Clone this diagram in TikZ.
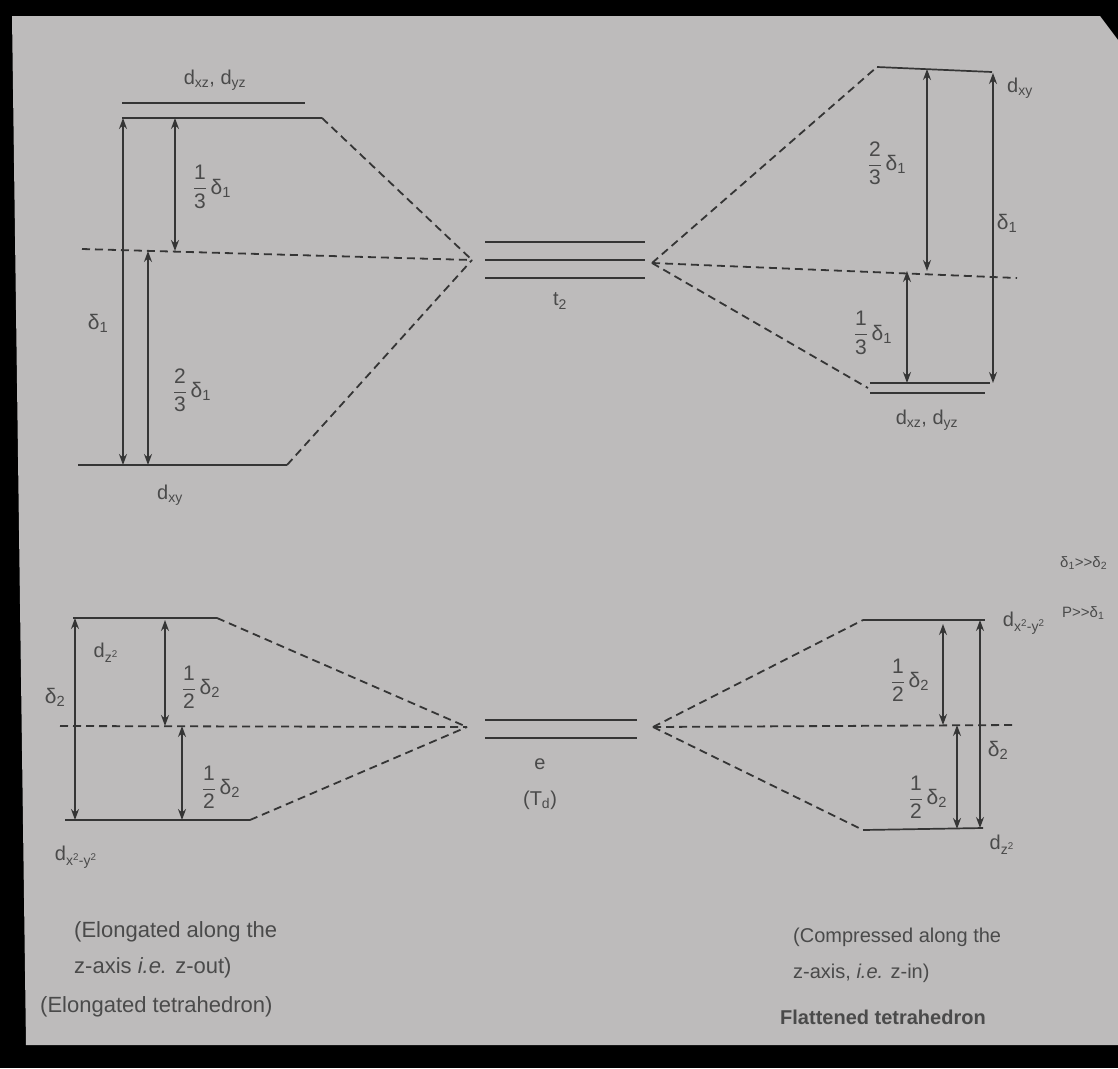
\documentclass[tikz,border=0pt]{standalone}
\usepackage{amsmath}
\usepackage{fontspec}
\setmainfont{Liberation Sans}
\usetikzlibrary{arrows.meta}
\definecolor{paper}{HTML}{BDBBBB}
\definecolor{ink}{HTML}{353535}
\definecolor{txt}{HTML}{4A4A4A}
\newcommand{\dl}[1]{d\textsubscript{#1}}
\newcommand{\frdel}[3]{$\dfrac{\text{#1}}{\text{#2}}$\,δ\textsubscript{#3}}
\begin{document}
\begin{tikzpicture}[x=1pt,y=-1pt,
  level/.style={draw=ink, line width=1.7pt},
  conn/.style={draw=ink, dash pattern=on 8pt off 5pt, line width=1.8pt},
  gap/.style={draw=ink, line width=1.3pt, {Stealth[length=11pt,width=8pt]}-{Stealth[length=11pt,width=8pt]}},
  lbl/.style={text=txt, font=\fontsize{21}{24}\selectfont, inner sep=0pt},
  dlbl/.style={text=txt, font=\fontsize{20}{23}\selectfont, inner sep=0pt},
  note/.style={text=txt, font=\fontsize{15}{18}\selectfont, inner sep=0pt, anchor=west},
  captxt/.style={text=txt, font=\fontsize{22}{25}\selectfont, inner sep=0pt, anchor=west},
  captxr/.style={text=txt, font=\fontsize{20}{23}\selectfont, inner sep=0pt, anchor=west}]
\useasboundingbox (0,0) rectangle (1118,1068);
\fill[black] (0,0) rectangle (1118,1068);
\fill[paper] (12,16) -- (1100,16) -- (1118,40) -- (1118,1045) -- (26,1045) -- cycle;

% ---------- centre levels ----------
\coordinate (tA1) at (485,242); \coordinate (tA2) at (645,242);
\coordinate (tB1) at (485,260); \coordinate (tB2) at (645,260);
\coordinate (tC1) at (485,278); \coordinate (tC2) at (645,278);
\draw[level] (tA1) -- (tA2); \draw[level] (tB1) -- (tB2); \draw[level] (tC1) -- (tC2);
\node[dlbl] (t2) at (560,301) {t\textsubscript{2}};
\coordinate (tL) at (472,260); \coordinate (tR) at (652,263);

\coordinate (eA1) at (485,720); \coordinate (eA2) at (637,720);
\coordinate (eB1) at (485,738); \coordinate (eB2) at (637,738);
\draw[level] (eA1) -- (eA2); \draw[level] (eB1) -- (eB2);
\node[dlbl] (e) at (540,764) {e};
\node[dlbl] (Td) at (540,800) {(T\textsubscript{d})};
\coordinate (eL) at (467,727); \coordinate (eR) at (653,727);

% ---------- top left ----------
\coordinate (a1) at (122,103); \coordinate (a2) at (305,103);
\coordinate (b1) at (122,118); \coordinate (b2) at (322,118);
\coordinate (c1) at (78,465);  \coordinate (c2) at (287,465);
\coordinate (m1) at (82,249);
\draw[level] (a1) -- (a2); \draw[level] (b1) -- (b2); \draw[level] (c1) -- (c2);
\draw[conn] (b2) -- (tL); \draw[conn] (c2) -- (tL); \draw[conn] (m1) -- (tL);
\coordinate (g1t) at (123,118); \coordinate (g1b) at (123,465);
\coordinate (g2t) at (175,118); \coordinate (g2b) at (175,251);
\coordinate (g3t) at (148,251); \coordinate (g3b) at (148,465);
\draw[gap] (g1t) -- (g1b); \draw[gap] (g2t) -- (g2b); \draw[gap] (g3t) -- (g3b);
\node[dlbl] (Lxz) at (215,80) {\dl{xz}, \dl{yz}};
\node[dlbl] (Lxy) at (170,495) {\dl{xy}};
\node[lbl] (Ld1) at (98,323) {δ\textsubscript{1}};
\node[lbl] (L13) at (212,187) {\frdel{1}{3}{1}};
\node[lbl] (L23) at (192,390) {\frdel{2}{3}{1}};

% ---------- top right ----------
\coordinate (p1) at (877,67);  \coordinate (p2) at (992,72);
\coordinate (q1) at (870,383); \coordinate (q2) at (990,383);
\coordinate (r1) at (870,393); \coordinate (r2) at (985,393);
\coordinate (qm) at (868,388);
\coordinate (m2) at (1017,278);
\draw[level] (p1) -- (p2); \draw[level] (q1) -- (q2); \draw[level] (r1) -- (r2);
\draw[conn] (tR) -- (p1); \draw[conn] (tR) -- (qm); \draw[conn] (tR) -- (m2);
\coordinate (h1t) at (927,69);  \coordinate (h1b) at (927,271);
\coordinate (h2t) at (907,271); \coordinate (h2b) at (907,383);
\coordinate (h3t) at (993,73);  \coordinate (h3b) at (993,383);
\draw[gap] (h1t) -- (h1b); \draw[gap] (h2t) -- (h2b); \draw[gap] (h3t) -- (h3b);
\node[dlbl] (Rxy) at (1020,88) {\dl{xy}};
\node[lbl] (R23) at (887,163) {\frdel{2}{3}{1}};
\node[lbl] (Rd1) at (1007,223) {δ\textsubscript{1}};
\node[lbl] (R13) at (873,333) {\frdel{1}{3}{1}};
\node[dlbl] (Rxz) at (927,420) {\dl{xz}, \dl{yz}};

% ---------- bottom left ----------
\coordinate (u1) at (73,618);  \coordinate (u2) at (217,618);
\coordinate (v1) at (65,820);  \coordinate (v2) at (250,820);
\coordinate (m3) at (60,726);
\draw[level] (u1) -- (u2); \draw[level] (v1) -- (v2);
\draw[conn] (u2) -- (eL); \draw[conn] (v2) -- (eL); \draw[conn] (m3) -- (eL);
\coordinate (k1t) at (75,618);  \coordinate (k1b) at (75,820);
\coordinate (k2t) at (165,620); \coordinate (k2b) at (165,726);
\coordinate (k3t) at (182,726); \coordinate (k3b) at (182,820);
\draw[gap] (k1t) -- (k1b); \draw[gap] (k2t) -- (k2b); \draw[gap] (k3t) -- (k3b);
\node[dlbl] (Lz2) at (106,653) {\dl{z\textsuperscript{2}}};
\node[lbl] (Ld2) at (55,697) {δ\textsubscript{2}};
\node[lbl] (L12a) at (201,687) {\frdel{1}{2}{2}};
\node[lbl] (L12b) at (221,787) {\frdel{1}{2}{2}};
\node[dlbl] (Lx2) at (76,857) {\dl{x\textsuperscript{2}-y\textsuperscript{2}}};

% ---------- bottom right ----------
\coordinate (w1) at (863,620); \coordinate (w2) at (985,620);
\coordinate (s1) at (863,830); \coordinate (s2) at (983,828);
\coordinate (m4) at (1013,725);
\draw[level] (w1) -- (w2); \draw[level] (s1) -- (s2);
\draw[conn] (eR) -- (w1); \draw[conn] (eR) -- (s1); \draw[conn] (eR) -- (m4);
\coordinate (n1t) at (943,624); \coordinate (n1b) at (943,725);
\coordinate (n2t) at (957,725); \coordinate (n2b) at (957,829);
\coordinate (n3t) at (980,620); \coordinate (n3b) at (980,828);
\draw[gap] (n1t) -- (n1b); \draw[gap] (n2t) -- (n2b); \draw[gap] (n3t) -- (n3b);
\node[dlbl] (Rx2) at (1024,623) {\dl{x\textsuperscript{2}-y\textsuperscript{2}}};
\node[lbl] (R12a) at (910,680) {\frdel{1}{2}{2}};
\node[lbl] (Rd2) at (998,750) {δ\textsubscript{2}};
\node[lbl] (R12b) at (928,797) {\frdel{1}{2}{2}};
\node[dlbl] (Rz2) at (1002,845) {\dl{z\textsuperscript{2}}};

% ---------- side notes ----------
\node[note] (N1) at (1060,563) {δ\textsubscript{1}>\kern0pt>δ\textsubscript{2}};
\node[note] (N2) at (1062,613) {P>\kern0pt>δ\textsubscript{1}};

% ---------- captions ----------
\node[captxt] (C1) at (74,932) {(Elongated along the};
\node[captxt] (C2) at (74,968) {z-axis \textit{i.e.} z-out)};
\node[captxt] (C3) at (40,1007) {(Elongated tetrahedron)};
\node[captxr] (C4) at (793,937) {(Compressed along the};
\node[captxr] (C5) at (793,973) {z-axis, \textit{i.e.} z-in)};
\node[captxr, font=\bfseries\fontsize{20}{23}\selectfont] (C6) at (780,1017) {Flattened tetrahedron};
\end{tikzpicture}
\end{document}
